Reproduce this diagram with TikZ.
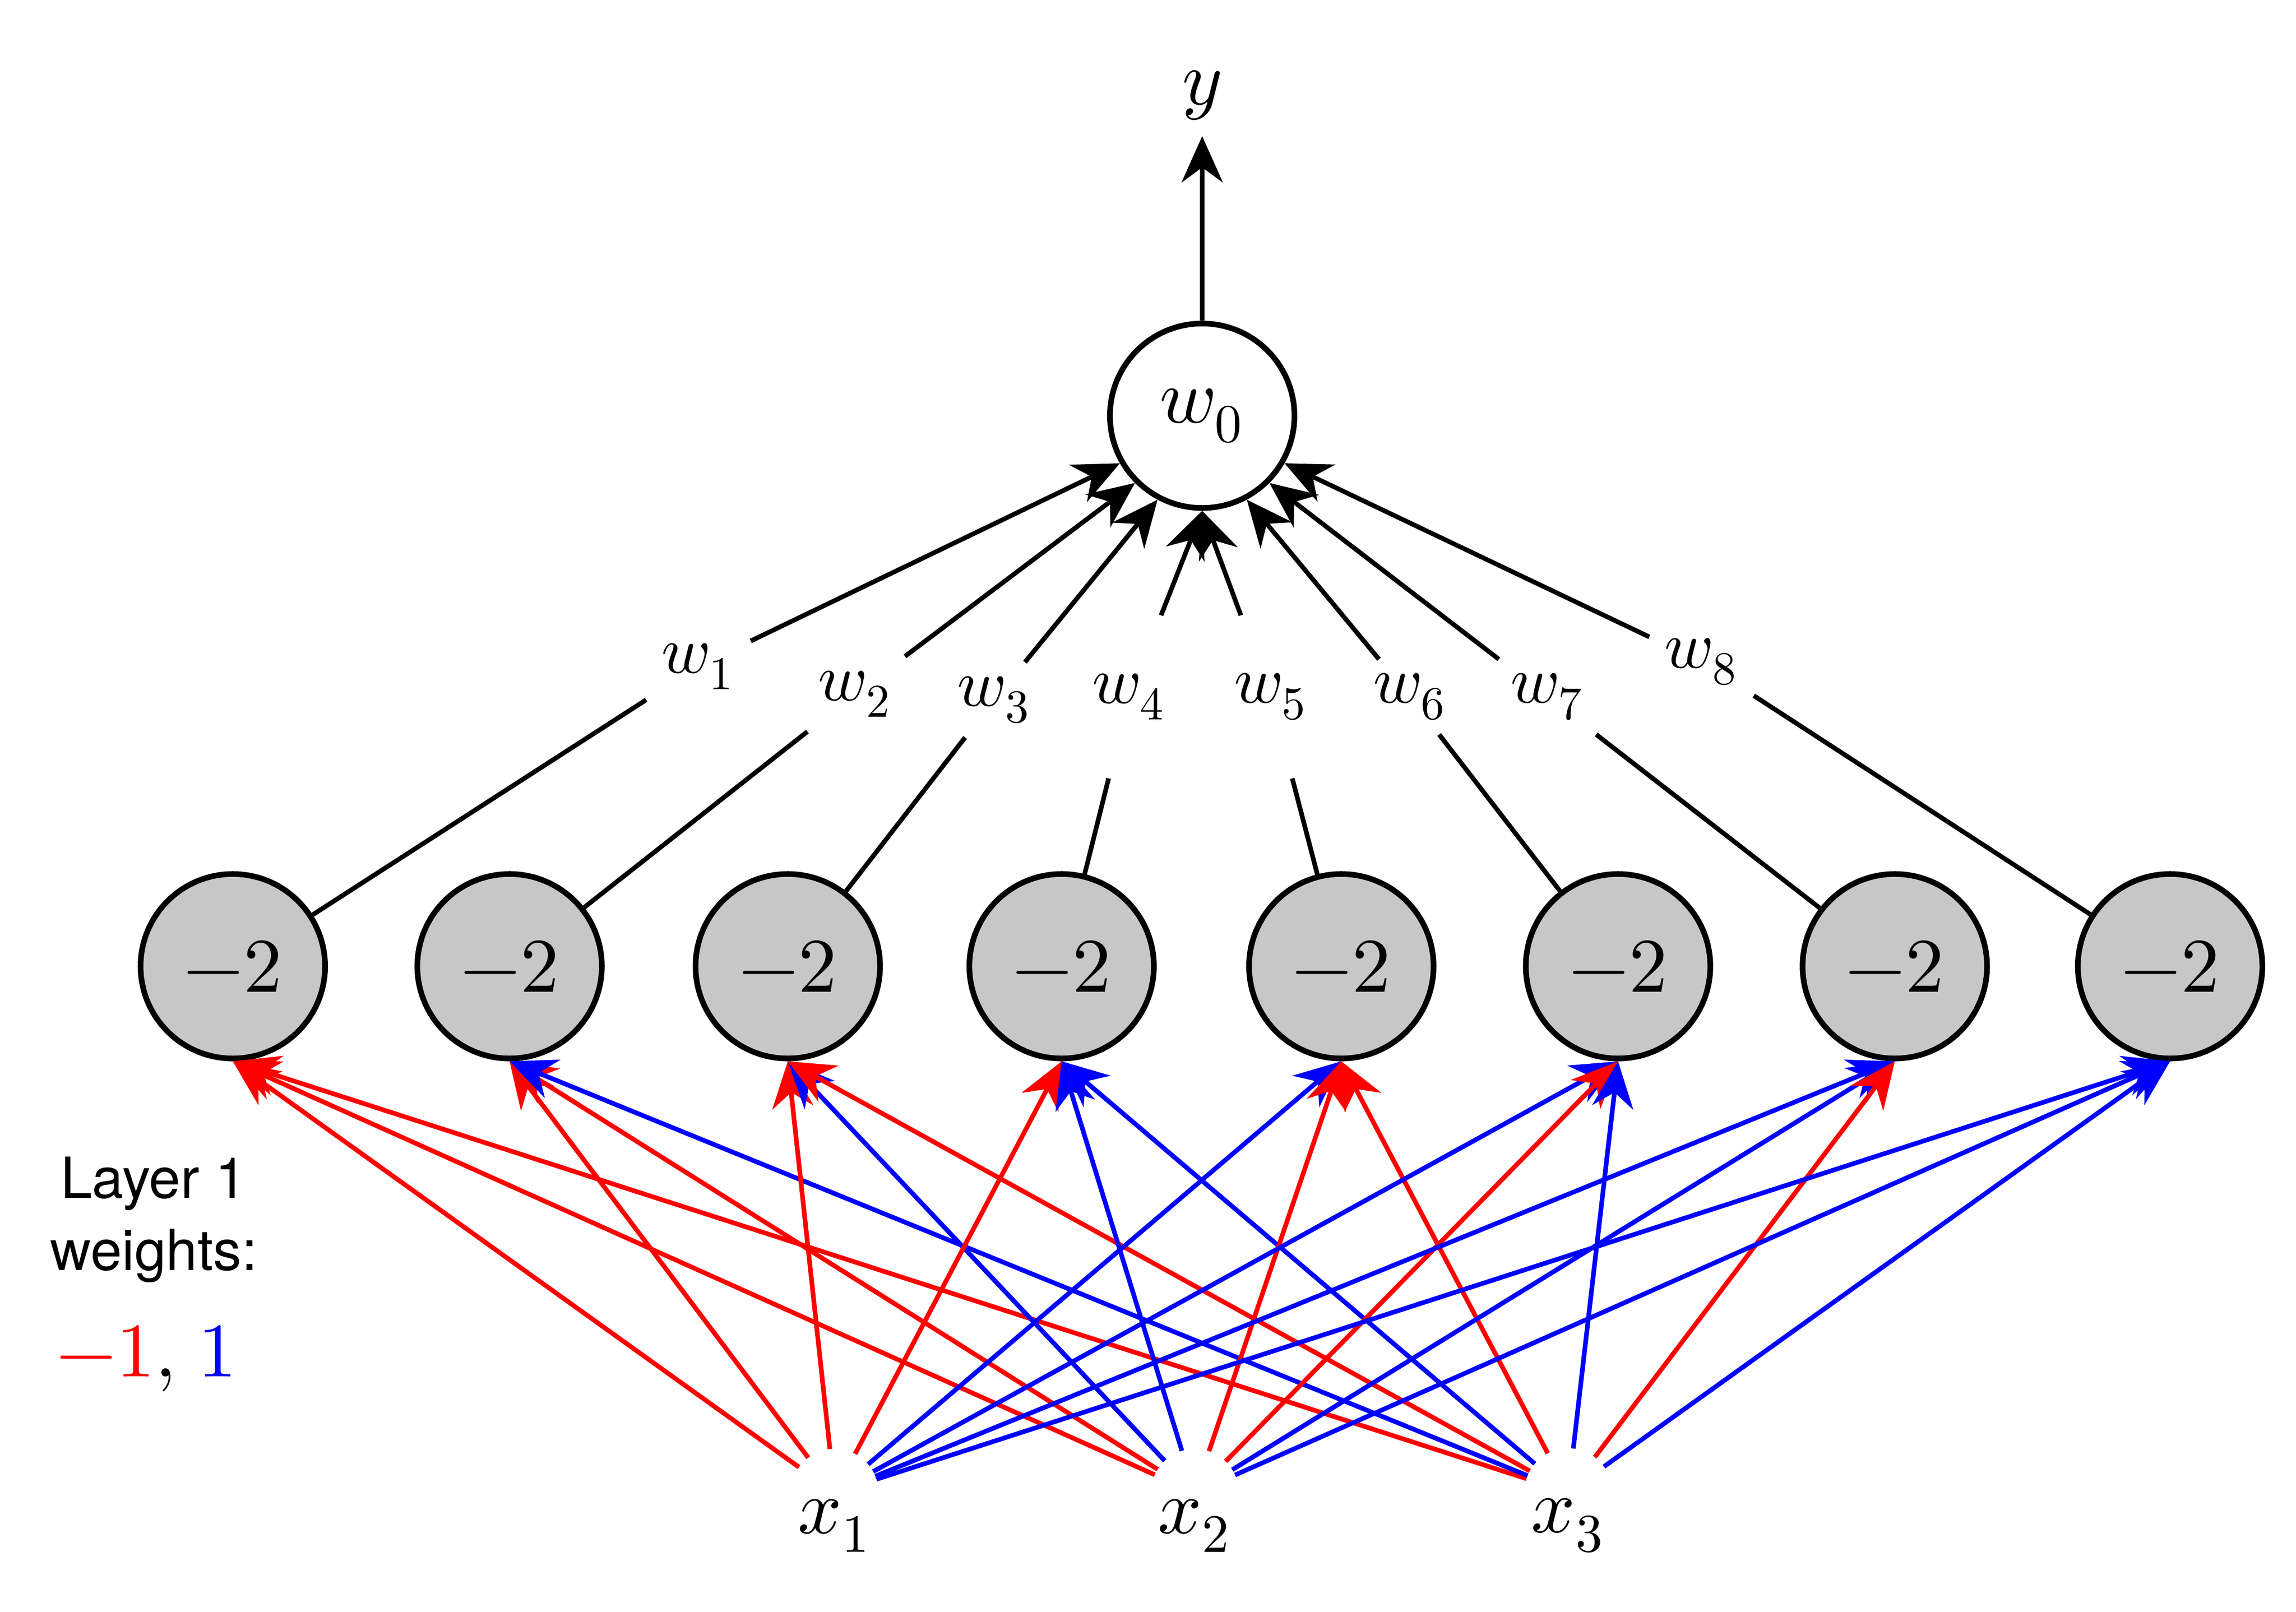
\documentclass[tikz,border=0pt]{standalone}
\usepackage{fontspec}
\setmainfont{TeX Gyre Heros}
\usepackage{unicode-math}
\setmathfont{Latin Modern Math}
\usetikzlibrary{arrows.meta}
\begin{document}
\begin{tikzpicture}[x=1cm,y=1cm,
  hid/.style={circle,draw,line width=1.1pt,fill=black!22,minimum size=1.26cm,inner sep=0pt,font=\fontsize{15}{17}\selectfont},
  outn/.style={circle,draw,line width=1.1pt,fill=white,minimum size=1.26cm,inner sep=0pt,font=\fontsize{15}{17}\selectfont},
  wl/.style={inner sep=0pt,minimum size=0.5cm,font=\fontsize{13}{15}\selectfont},
  xin/.style={inner sep=1pt,font=\fontsize{15}{17}\selectfont},
  arr/.style={line width=0.9pt,-{Stealth[length=9pt,width=8pt]}},
  ln/.style={line width=0.9pt},
  wneg/.style={arr,red,shorten <=0.3cm},
  wpos/.style={arr,blue,shorten <=0.3cm}]
\useasboundingbox (0,0) rectangle (15.68,11.01);
\node[outn] (o) at (8.21,8.17) {$w_0$};
\node[inner sep=1pt,font=\fontsize{15}{17}\selectfont] (y) at (8.21,10.36) {$y$};
\draw[arr] (o) -- (8.21,10.08) coordinate (yt);
\foreach \i/\x in {1/1.59,2/3.48,3/5.38,4/7.25,5/9.16,6/11.05,7/12.94,8/14.82}{
  \node[hid] (h\i) at (\x,4.41) {$-2$};
}
\node[wl,minimum width=0.7cm] (w1) at (4.77,6.46) {$w_1$};
\node[wl,minimum width=0.7cm] (w2) at (5.84,6.27) {$w_2$};
\node[wl,minimum width=0.7cm] (w3) at (6.79,6.23) {$w_3$};
\node[wl,minimum width=0.6cm,minimum height=1.1cm] (w4) at (7.71,6.25) {$w_4$};
\node[wl,minimum width=0.6cm,minimum height=1.1cm] (w5) at (8.68,6.25) {$w_5$};
\node[wl,minimum width=0.7cm] (w6) at (9.63,6.25) {$w_6$};
\node[wl,minimum width=0.7cm] (w7) at (10.57,6.25) {$w_7$};
\node[wl,minimum width=0.7cm] (w8) at (11.62,6.49) {$w_8$};
\foreach \i in {1,...,8}{
  \draw[ln] (h\i) -- (w\i);
}
\foreach \i/\a in {1/-150,2/-135,3/-118,6/-62,7/-45,8/-30}{
  \draw[arr] (w\i) -- (o.\a);
}
\draw[arr] (w4) -- (o.south);
\draw[arr] (w5) -- (o.south);
\node[xin] (x1) at (5.70,0.59) {$x_1$};
\node[xin] (x2) at (8.16,0.59) {$x_2$};
\node[xin] (x3) at (10.71,0.59) {$x_3$};
\foreach \i/\a/\b/\c in {1/wneg/wneg/wneg,2/wneg/wneg/wpos,3/wneg/wpos/wneg,4/wneg/wpos/wpos,5/wpos/wneg/wneg,6/wpos/wneg/wpos,7/wpos/wpos/wneg,8/wpos/wpos/wpos}{
  \draw[\a] (x1.north) -- (h\i.south);
  \draw[\b] (x2.north) -- (h\i.south);
  \draw[\c] (x3.north) -- (h\i.south);
}
\node[font=\fontsize{11}{14}\selectfont,align=center] (lab) at (1.05,2.68) {Layer 1\\weights:};
\node[font=\fontsize{15}{17}\selectfont] (vals) at (1.00,1.73) {\textcolor{red}{$-1$}$,$ \textcolor{blue}{$1$}};
\end{tikzpicture}
\end{document}
